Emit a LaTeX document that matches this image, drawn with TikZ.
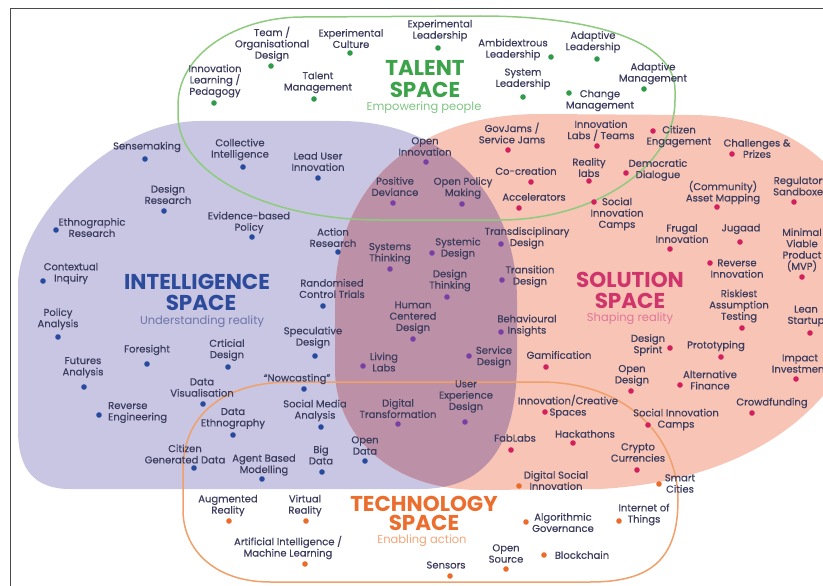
\documentclass[tikz,border=0pt]{standalone}
\usepackage{fontspec}
\setmainfont{Poppins}
\newfontfamily\lblfont{Poppins}[FakeBold=0.35]
\definecolor{lav}{HTML}{C8C6E2}
\definecolor{sal}{HTML}{F7C4B6}
\definecolor{ovl}{HTML}{BC90A6}
\definecolor{grn}{HTML}{8FCB7E}
\definecolor{org}{HTML}{F0A06A}
\definecolor{txt}{HTML}{3B3C5E}
\definecolor{dI}{HTML}{274A9C}
\definecolor{dT}{HTML}{2E9A4A}
\definecolor{dS}{HTML}{D21F5E}
\definecolor{dO}{HTML}{7A3FA5}
\definecolor{dE}{HTML}{EC6B2A}
\definecolor{tT}{HTML}{3DA34A}
\definecolor{sT}{HTML}{7FC583}
\definecolor{tI}{HTML}{2D4B9B}
\definecolor{sI}{HTML}{6E74AA}
\definecolor{tS}{HTML}{CF346B}
\definecolor{sS}{HTML}{E27699}
\definecolor{tE}{HTML}{EB6E2F}
\definecolor{sE}{HTML}{F3A679}
\definecolor{frm}{HTML}{4A4A4A}
\newcommand{\itm}[6][]{\node[lb,#1] (#2) at (#3) {#4}; \node[spot=#6] (#2-d) at (#5) {};}
\begin{document}
\begin{tikzpicture}[x=1pt,y=-1pt,
  lb/.style={font=\lblfont\fontsize{10}{11.3}\selectfont, text=txt, align=center, inner sep=0pt},
  spot/.style={circle, fill=#1, minimum size=5.6pt, inner sep=0pt},
  ttl/.style={font=\fontsize{21.5}{23}\selectfont\bfseries, inner sep=0pt},
  sub/.style={font=\fontsize{11.5}{13}\selectfont, inner sep=0pt}]
\useasboundingbox (0,0) rectangle (823,586);
\def\intelpath{(18,300) -- (18,285) .. controls (18,220) and (110,121) .. (200,121) -- (340,121) .. controls (450,121) and (517,200) .. (517,300) -- (517,360) .. controls (517,440) and (490,489) .. (420,489) -- (70,489) .. controls (35,489) and (18,470) .. (18,430) -- cycle}
\def\solpath{(335,370) -- (335,300) .. controls (335,180) and (420,114) .. (540,114) -- (690,115) .. controls (760,115) and (823,140) .. (860,210) -- (870,300) .. controls (850,400) and (760,480) .. (600,489) -- (480,490) .. controls (385,490) and (335,430) .. (335,370) -- cycle}
\fill[lav] \intelpath;
\fill[sal] \solpath;
\begin{scope}
\clip \solpath;
\fill[ovl] \intelpath;
\end{scope}
% talent outline
\draw[grn, line width=1.5pt] (303,17) -- (480,16) .. controls (590,16) and (675,40) .. (675,90) -- (675,100) .. controls (675,170) and (590,220) .. (500,220) -- (380,220) .. controls (270,220) and (178,175) .. (178,115) -- (178,105) .. controls (178,55) and (235,17) .. (303,17) -- cycle;
% technology outline
\draw[org, line width=1.5pt] (290,382) -- (540,382) .. controls (630,382) and (678,440) .. (678,500) .. controls (678,560) and (650,582) .. (590,582) -- (270,582) .. controls (215,582) and (183,550) .. (183,510) -- (183,470) .. controls (183,410) and (230,382) .. (290,382) -- cycle;
% frame
\draw[frm, line width=1pt] (10,586) -- (10,9) -- (823,9);
% titles
\node[ttl,text=tT] (talA) at (425,68) {TALENT};
\node[ttl,text=tT] (talB) at (425,90) {SPACE};
\node[sub,text=sT] (talC) at (424,108) {Empowering people};
\node[ttl,text=tI] (intA) at (197,282) {INTELLIGENCE};
\node[ttl,text=tI] (intB) at (201,303) {SPACE};
\node[sub,text=sI] (intC) at (202,322) {Understanding reality};
\node[ttl,text=tS] (solA) at (630,280) {SOLUTION};
\node[ttl,text=tS] (solB) at (630,301) {SPACE};
\node[sub,text=sS] (solC) at (630,319) {Shaping reality};
\node[ttl,text=tE] (tecA) at (424,504) {TECHNOLOGY};
\node[ttl,text=tE] (tecB) at (424,523) {SPACE};
\node[sub,text=sE] (tecC) at (422,541) {Enabling action};
% talent items
\itm{t1}{272,44}{Team /\\Organisational\\Design}{271,66}{dT}
\itm{t2}{351,38.5}{Experimental\\Culture}{350,53}{dT}
\itm{t3}{215,81}{Innovation\\Learning /\\Pedagogy}{214,103}{dT}
\itm{t4}{318,82.5}{Talent\\Management}{314,99}{dT}
\itm{t5}{440,30.5}{Experimental\\Leadership}{438,48}{dT}
\itm{t6}{513,49.5}{Ambidextrous\\Leadership}{551,57}{dT}
\itm{t7}{523,79}{System\\Leadership}{523,97}{dT}
\itm{t8}{593,42}{Adaptive\\Leadership}{597,59}{dT}
\itm{t9}{653,73.5}{Adaptive\\Management}{644,89}{dT}
\itm{t10}{600,100.5}{Change\\Management}{569,93}{dT}
% intelligence items
\itm{i1}{147,147}{Sensemaking}{145,159}{dI}
\itm{i2}{240,149.5}{Collective\\Intelligence}{243,167}{dI}
\itm{i3}{318,161.5}{Lead User\\Innovation}{318,178}{dI}
\itm{i4}{168,194.5}{Design\\Research}{164,211}{dI}
\itm{i5}{92,227.5}{Ethnographic\\Research}{56,230}{dI}
\itm{i6}{249,222.5}{Evidence-based\\Policy}{252,237}{dI}
\itm{i7}{333,237.5}{Action\\Research}{338,252}{dI}
\itm{i8}{71,273.5}{Contextual\\Inquiry}{43,281}{dI}
\itm{i9}{58,319}{Policy\\Analysis}{58,337}{dI}
\itm{i10}{332,288.5}{Randomised\\Control Trials}{323,306}{dI}
\itm{i11}{313,337.5}{Speculative\\Design}{315,356}{dI}
\itm{i12}{147,350}{Foresight}{147,364}{dI}
\itm{i13}{227,350}{Crticial\\Design}{228,367}{dI}
\itm{i14}{83,367.5}{Futures\\Analysis}{84,387}{dI}
\itm{i15}{297,379}{“Nowcasting”}{304,389}{dI}
\itm{i16}{202,387.5}{Data\\Visualisation}{203,404}{dI}
\itm[anchor=west,align=left]{i17}{108,412.5}{Reverse\\Engineering}{99,415}{dI}
\itm{i18}{315,410.5}{Social Media\\Analysis}{321,427}{dI}
\itm{i19}{233,418.5}{Data\\Ethnography}{233,435}{dI}
\itm{i20}{185,454}{Citizen\\Generated Data}{194,468}{dI}
\itm{i21}{264,465}{Agent Based\\Modelling}{262,479}{dI}
\itm{i22}{321,455}{Big\\Data}{322,472}{dI}
\itm{i23}{365,445.5}{Open\\Data}{365,461}{dI}
% overlap items
\itm{o1}{425,146.5}{Open\\Innovation}{426,162}{dO}
\itm{o2}{395,186.5}{Positive\\Deviance}{393,203}{dO}
\itm{o3}{463,188}{Open Policy\\Making}{462,204}{dO}
\itm{o4}{390,253.5}{Systems\\Thinking}{390,269}{dO}
\itm{o5}{458,248.5}{Systemic\\Design}{432,253}{dO}
\itm{o6}{527,238}{Transdisciplinary\\Design}{501,244}{dO}
\itm{o7}{530,276.5}{Transition\\Design}{502,280}{dO}
\itm{o8}{450,280.5}{Design\\Thinking}{447,297}{dO}
\itm{o9}{413,317.5}{Human\\Centered\\Design}{413,339}{dO}
\itm{o10}{527,325.5}{Behavioural\\Insights}{501,332}{dO}
\itm{o11}{384,362}{Living\\Labs}{363,366}{dO}
\itm{o12}{494,357}{Service\\Design}{469,356}{dO}
\itm{o13}{398,408.5}{Digital\\Transformation}{398,424}{dO}
\itm{o14}{466,396.5}{User\\Experience\\Design}{465,422}{dO}
% solution items
\itm{s1}{512,133}{GovJams /\\Service Jams}{508,150}{dS}
\itm{s2}{601,130.5}{Innovation\\Labs / Teams}{597,146}{dS}
\itm{s3}{679,136.5}{Citizen\\Engagement}{653,131}{dS}
\itm{s4}{757,148.5}{Challenges \&\\Prizes}{732,154}{dS}
\itm{s5}{526,171}{Co-creation}{531,182}{dS}
\itm{s6}{589,167.5}{Reality\\labs}{589,181}{dS}
\itm{s7}{658,170}{Democratic\\Dialogue}{626,173}{dS}
\itm{s8}{534,197}{Accelerators}{519,208}{dS}
\itm{s9}{617,214}{Social\\Innovation\\Camps}{594,202}{dS}
\itm{s10}{723,192.5}{(Community)\\Asset Mapping}{717,207}{dS}
\itm[anchor=west]{s11}{773,186}{Regulatory\\Sandboxes}{794,202}{dS}
\itm{s12}{682,233.5}{Frugal\\Innovation}{670,249}{dS}
\itm{s13}{741,229}{Jugaad}{740,242}{dS}
\itm{s14}{802,250}{Minimal\\Viable\\Product\\(MVP)}{802,277}{dS}
\itm{s15}{737,268.5}{Reverse\\Innovation}{710,263}{dS}
\itm{s16}{739,306}{Riskiest\\Assumption\\Testing}{742,328}{dS}
\itm{s17}{806,316}{Lean\\Startup}{810,333}{dS}
\itm{s18}{559,355}{Gamification}{546,367}{dS}
\itm{s19}{648,345}{Design\\Sprint}{670,348}{dS}
\itm{s20}{716,346}{Prototyping}{721,357}{dS}
\itm{s21}{800,363.5}{Impact\\Investment}{796,379}{dS}
\itm{s22}{632,375.5}{Open\\Design}{631,391}{dS}
\itm{s23}{710,380}{Alternative\\Finance}{680,385}{dS}
\itm{s24}{568,406.5}{Innovation/Creative\\Spaces}{545,412}{dS}
\itm{s25}{772,403}{Crowdfunding}{752,413}{dS}
\itm{s26}{676,419.5}{Social Innovation\\Camps}{648,425}{dS}
\itm{s27}{515,438}{FabLabs}{511,450}{dS}
\itm{s28}{585,434}{Hackathons}{573,443}{dS}
\itm{s29}{638,452.5}{Crypto\\Currencies}{637,470}{dS}
% technology items
\itm{e1}{556,480.5}{Digital Social\\Innovation}{519,486}{dE}
\itm{e2}{680,483.5}{Smart\\Cities}{659,484}{dE}
\itm{e3}{563,522.5}{Algorithmic\\Governance}{526,522}{dE}
\itm{e4}{644,514.5}{Internet of\\Things}{619,521}{dE}
\itm{e5}{506,553.5}{Open\\Source}{506,569}{dE}
\itm{e6}{582,555}{Blockchain}{544,555}{dE}
\itm{e7}{228,505.5}{Augmented\\Reality}{229,521}{dE}
\itm{e8}{305,505.5}{Virtual\\Reality}{306,521}{dE}
\itm{e9}{288,547.5}{Artificial Intelligence /\\Machine Learning}{305,564}{dE}
\itm{e10}{446,565}{Sensors}{450,576}{dE}
\end{tikzpicture}
\end{document}
